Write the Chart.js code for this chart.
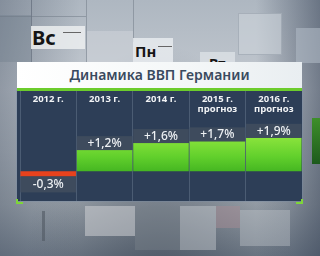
<!DOCTYPE html>
<html lang="ru">
<head>
<meta charset="utf-8">
<title>Динамика ВВП Германии</title>
<style>
  html, body { margin: 0; padding: 0; }
  body {
    width: 320px; height: 256px; overflow: hidden; position: relative;
    font-family: "Noto Sans", sans-serif;
    background:
      radial-gradient(ellipse at 50% 115%, rgba(40,50,65,0.5) 0%, rgba(40,50,65,0) 60%),
      linear-gradient(90deg, rgba(70,82,100,0.4) 0%, rgba(70,82,100,0) 25%, rgba(70,82,100,0) 80%, rgba(50,62,82,0.55) 100%),
      linear-gradient(180deg, #aeb7c1 0%, #c2c8cf 35%, #b2b9c1 60%, #9ea6ae 80%, #737e8b 100%);
  }
  .tile { position: absolute; }
  .day { position: absolute; font-weight: bold; color: #151515; line-height: 1; }
  #title {
    position: absolute; left: 17px; top: 62px; width: 285px; height: 26px;
    background: linear-gradient(90deg, #ffffff 0%, #f4f7f8 60%, #e9eef1 100%);
    color: #3a4a5f; font-size: 14px; font-weight: 600; text-align: center; line-height: 26px;
    z-index: 3;
  }
  #gline { position: absolute; left: 17px; top: 88px; width: 285px; height: 3px; background: #6ccc2c; z-index: 3; }
  #panel {
    position: absolute; left: 17px; top: 91px; width: 285px; height: 110px;
    background: #2d3e57; z-index: 2; box-shadow: 0 0 0 1px rgba(120,140,165,0.35);
  }
  #chartbox { position: absolute; left: 20px; top: 91px; width: 282px; height: 110px; z-index: 4; }
  .corner { position: absolute; z-index: 5; border-color: #7ed638; border-style: solid; width: 5px; height: 3px; }
</style>
</head>
<body>

<!-- background tiles -->
<div class="tile" style="left:0;top:15px;width:31px;height:47px;background:rgba(110,122,138,0.35);"></div>
<div class="tile" style="left:31px;top:0;width:1px;height:70px;background:rgba(90,100,115,0.6);"></div>
<div class="tile" style="left:86px;top:0;width:1px;height:62px;background:rgba(110,120,132,0.5);"></div>
<div class="tile" style="left:133px;top:0;width:1px;height:42px;background:rgba(110,120,132,0.5);"></div>
<div class="tile" style="left:0;top:16px;width:86px;height:1px;background:rgba(110,120,132,0.5);"></div>
<div class="tile" style="left:31px;top:26px;width:54px;height:23px;background:rgba(236,238,240,0.85);"></div>
<div class="day" style="left:32px;top:28px;font-size:20px;">Вс</div>
<div class="tile" style="left:63px;top:32px;width:18px;height:1px;background:#666;"></div>
<div class="tile" style="left:87px;top:31px;width:46px;height:31px;background:rgba(210,214,219,0.5);"></div>
<div class="tile" style="left:133px;top:38px;width:40px;height:24px;background:rgba(232,235,238,0.85);"></div>
<div class="day" style="left:135px;top:44px;font-size:15px;">Пн</div>
<div class="tile" style="left:158px;top:46px;width:14px;height:1px;background:#666;"></div>
<div class="tile" style="left:200px;top:52px;width:35px;height:12px;background:rgba(225,229,233,0.7);"></div>
<div class="day" style="left:209px;top:57px;font-size:14px;">Вт</div>
<div class="tile" style="left:238px;top:13px;width:42px;height:40px;background:rgba(205,212,219,0.6);border:1px solid rgba(140,150,162,0.5);"></div>
<div class="tile" style="left:296px;top:28px;width:24px;height:35px;background:rgba(175,185,196,0.6);"></div>
<div class="tile" style="left:312px;top:118px;width:8px;height:46px;background:linear-gradient(180deg,#3e8f2a,#1d5a1c);"></div>
<div class="tile" style="left:85px;top:206px;width:50px;height:30px;background:rgba(205,208,212,0.55);"></div>
<div class="tile" style="left:135px;top:208px;width:45px;height:42px;background:rgba(120,128,138,0.45);"></div>
<div class="tile" style="left:180px;top:206px;width:36px;height:44px;background:rgba(200,204,208,0.45);"></div>
<div class="tile" style="left:216px;top:206px;width:24px;height:22px;background:rgba(165,140,148,0.5);"></div>
<div class="tile" style="left:240px;top:210px;width:50px;height:36px;background:rgba(195,200,205,0.4);"></div>
<div class="tile" style="left:42px;top:211px;width:3px;height:30px;background:rgba(80,88,98,0.6);"></div>

<div id="title">Динамика ВВП Германии</div>
<div id="gline"></div>
<div id="panel"></div>
<div id="chartbox"><canvas id="gdp" width="282" height="110"></canvas></div>
<div class="corner" style="left:16px;top:199px;border-width:0 0 2px 2px;"></div>
<div class="corner" style="left:296px;top:199px;border-width:0 2px 2px 0;"></div>

<script src="https://cdn.jsdelivr.net/npm/chart.js"></script>
<script>
  // column headers and GDP growth, %
  const years = [['2012 г.'], ['2013 г.'], ['2014 г.'], ['2015 г.', 'прогноз'], ['2016 г.', 'прогноз']];
  const growth = [-0.3, 1.2, 1.6, 1.7, 1.9];

  Chart.defaults.font.family = '"Noto Sans", sans-serif';

  function fmt(v) {
    return (v > 0 ? '+' : '') + v.toFixed(1).replace('.', ',') + '%';
  }

  function barColor(c) {
    const v = c.raw;
    if (v < 0) return '#e8421d';
    const area = c.chart.chartArea;
    if (!area) return '#66d22e';
    const g = c.chart.ctx.createLinearGradient(0, area.top + 20, 0, area.top + 56);
    g.addColorStop(0, '#8fe63e');
    g.addColorStop(0.6, '#62d02c');
    g.addColorStop(1, '#46b722');
    return g;
  }

  // value labels sitting in a band next to each bar
  const valueBands = {
    id: 'valueBands',
    afterDatasetsDraw(chart) {
      const ctx = chart.ctx;
      const meta = chart.getDatasetMeta(0);
      ctx.save();
      meta.data.forEach((bar, i) => {
        const v = growth[i];
        const half = bar.width / 2;
        let top = v >= 0 ? bar.y - 14 : bar.y;
        let h = v >= 0 ? 14 : 16;
        ctx.fillStyle = '#3e4b5d';
        ctx.fillRect(bar.x - half, top, bar.width, h);
        ctx.fillStyle = '#eef1f4';
        ctx.font = '500 12px "Noto Sans", sans-serif';
        ctx.textAlign = 'center';
        ctx.textBaseline = 'middle';
        ctx.fillText(fmt(v), bar.x, top + h / 2 + 0.5);
      });
      ctx.restore();
    }
  };

  new Chart(document.getElementById('gdp'), {
    type: 'bar',
    data: {
      labels: years,
      datasets: [{
        data: growth,
        backgroundColor: barColor,
        borderWidth: 0,
        barPercentage: 0.985,
        categoryPercentage: 1
      }]
    },
    options: {
      responsive: false,
      animation: false,
      layout: { padding: 0 },
      plugins: { legend: { display: false }, tooltip: { enabled: false } },
      scales: {
        x: {
          position: 'top',
          border: { display: false },
          grid: { color: '#4b5c73', tickColor: '#4b5c73', drawTicks: true, tickLength: 24, offset: true },
          ticks: {
            color: '#f1f3f5',
            padding: -24,
            crossAlign: 'far',
            autoSkip: false,
            maxRotation: 0,
            font: { size: 9.5, weight: 'bold', lineHeight: 1.1 }
          },
          afterFit: (axis) => { axis.height = 24; }
        },
        y: {
          display: false,
          min: -1.7,
          max: 3.2
        }
      }
    },
    plugins: [valueBands]
  });
</script>
</body>
</html>
